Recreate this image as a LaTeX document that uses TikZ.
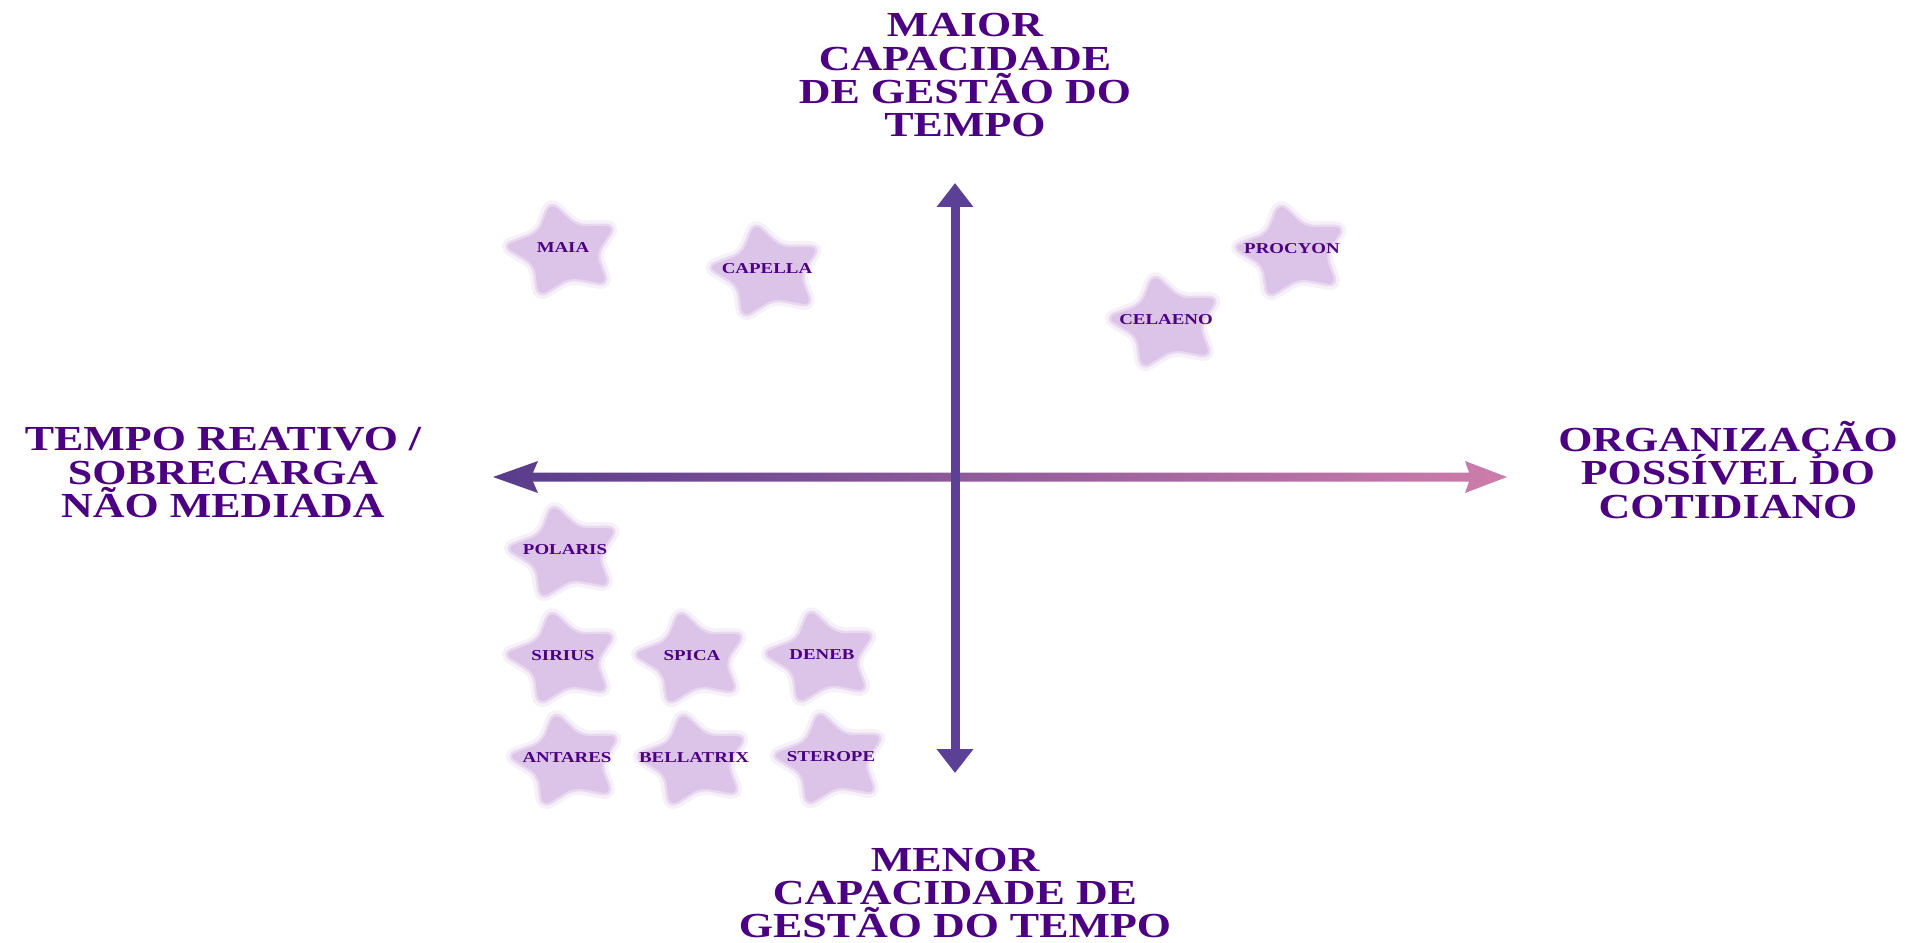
\documentclass[tikz,border=0pt]{standalone}
\usepackage{fontspec}
\setmainfont{Liberation Serif}[FakeStretch=1.25]
\usepackage{tikz}
\usetikzlibrary{arrows.meta,
                calc}
\setlength{\lineskiplimit}{-100pt}

\definecolor{titleink}{RGB}{75,0,130}
\definecolor{axleft}{RGB}{88,60,140}
\definecolor{axmid}{RGB}{120,78,165}
\definecolor{axright}{RGB}{205,125,170}
\definecolor{axvert}{RGB}{92,64,150}
\definecolor{starfill}{RGB}{220,196,232}

\tikzset{
    axistitle/.style={text=titleink, align=center, inner sep=0pt,
        font=\bfseries\fontsize{10}{9.4}\selectfont},
    starlbl/.style={text=titleink, inner sep=0pt,
        font=\bfseries\fontsize{4.3}{5}\selectfont},
    starbg/.style={fill=starfill, draw=starfill, draw opacity=0.55,
        line width=1.4pt, rounded corners=2.6pt,
        preaction={draw=starfill, draw opacity=0.25, line width=3.4pt}},
    vaxis/.style={draw=axvert, line width=2.56pt,
        {Triangle[length=6.8pt, width=10pt]}-{Triangle[length=6.8pt, width=10pt]}},
    haxis/.style={left color=axleft, middle color=axmid, right color=axright}
}

% a blurred lavender star with its name on top
\newcommand{\starlabel}[3]{%
    \coordinate (#1) at (#2);
    \coordinate (#1-c) at ($(#1)+(0,3)$);
    \fill[starbg] ($(#1-c)+({33*cos(66)},{-27*sin(66)})$)
        \foreach \a in {102,174,246,318}{
            -- ($(#1-c)+({60*cos(\a)},{-50*sin(\a)})$)
            -- ($(#1-c)+({33*cos(\a+36)},{-27*sin(\a+36)})$)}
        -- ($(#1-c)+({60*cos(390)},{-50*sin(390)})$) -- cycle;
    \node[starlbl] (#1-txt) at (#1) {#3};}

\begin{document}
\begin{tikzpicture}[x=0.01cm, y=-0.01cm]
    \useasboundingbox (0,0) rectangle (1924,942);

    % axis end points
    \coordinate (hleft) at (493,477);
    \coordinate (hright) at (1507,477);
    \coordinate (vtop) at (955,183);
    \coordinate (vbot) at (955,773);

    % horizontal axis, purple to pink
    \shade[haxis] (hleft) -- ++(45,-16) -- ++(-5,11.5)
        -- ($(hright)+(-38,-4.5)$) -- ++(-4,-11.5) -- (hright)
        -- ++(-42,16) -- ++(4,-11.5)
        -- ($(hleft)+(40,4.5)$) -- ++(5,11.5) -- cycle;

    % vertical axis
    \draw[vaxis] (vbot) -- (vtop);

    % axis titles
    \node[axistitle, anchor=north] (top) at (965,13) {MAIOR\\CAPACIDADE\\DE GESTÃO DO\\TEMPO};
    \node[axistitle, anchor=north] (bottom) at (955,847) {MENOR\\CAPACIDADE DE\\GESTÃO DO TEMPO};
    \node[axistitle, anchor=north] (left) at (223,427) {TEMPO REATIVO /\\SOBRECARGA\\NÃO MEDIADA};
    \node[axistitle, anchor=north] (right) at (1728,421) {ORGANIZAÇÃO\\POSSÍVEL DO\\COTIDIANO};

    % stars, upper half
    \starlabel{maia}{563,248}{MAIA}
    \starlabel{capella}{767,269}{CAPELLA}
    \starlabel{celaeno}{1166,320}{CELAENO}
    \starlabel{procyon}{1292,249}{PROCYON}

    % stars, lower left
    \starlabel{polaris}{565,550}{POLARIS}
    \starlabel{sirius}{563,656}{SIRIUS}
    \starlabel{spica}{692,656}{SPICA}
    \starlabel{deneb}{822,655}{DENEB}
    \starlabel{antares}{567,758}{ANTARES}
    \starlabel{bellatrix}{694,758}{BELLATRIX}
    \starlabel{sterope}{831,757}{STEROPE}
\end{tikzpicture}
\end{document}
